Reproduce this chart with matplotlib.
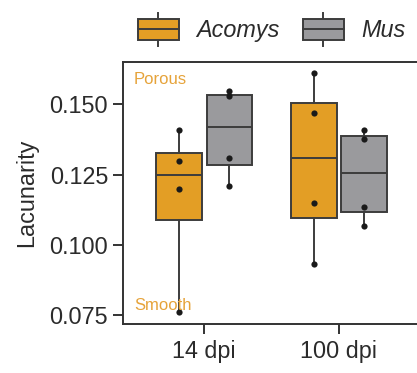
import matplotlib
matplotlib.use("Agg")
import matplotlib.pyplot as plt
from matplotlib.patches import Rectangle
from matplotlib.lines import Line2D
from matplotlib.legend_handler import HandlerBase

# --- Data ---
timepoints = ["14 dpi", "100 dpi"]
species = ["Acomys", "Mus"]
acomys_14 = [0.141, 0.130, 0.120, 0.076]
mus_14 = [0.1548, 0.1530, 0.1309, 0.1208]
acomys_100 = [0.1610, 0.1469, 0.1149, 0.0930]
mus_100 = [0.1410, 0.1378, 0.1135, 0.1068]

COLORS = {"Acomys": "#E39E25", "Mus": "#9A9A9D"}
EDGE = "#3c3c3c"
TEXT = "#2b2b2b"
LW = 1.4

plt.rcParams['font.family'] = ['Liberation Sans', 'DejaVu Sans']


class BoxKeyHandler(HandlerBase):
    # legend key drawn like a small boxplot
    def create_artists(self, legend, orig_handle, xdescent, ydescent,
                       width, height, fontsize, trans):
        fc = orig_handle.get_facecolor()
        x0, y0 = -xdescent, -ydescent
        b0, b1 = y0 + 0.19 * height, y0 + 0.81 * height
        box = Rectangle((x0, b0), width, b1 - b0, facecolor=fc,
                        edgecolor=EDGE, lw=LW, transform=trans)
        mid = Line2D([x0, x0 + width], [y0 + height / 2] * 2, color=EDGE,
                     lw=LW, transform=trans)
        cx = x0 + width / 2
        w_lo = Line2D([cx, cx], [y0, b0], color=EDGE, lw=LW, transform=trans)
        w_hi = Line2D([cx, cx], [b1, y0 + height], color=EDGE, lw=LW, transform=trans)
        return [w_lo, w_hi, box, mid]


fig = plt.figure(figsize=(4.17, 3.73), dpi=100)
ax = fig.add_axes([0.2957, 0.1306, 0.711, 0.704])

groups = {"Acomys": [acomys_14, acomys_100], "Mus": [mus_14, mus_100]}
offsets = {"Acomys": -0.1875, "Mus": 0.1875}

for sp in species:
    pos = [i + offsets[sp] for i in range(len(timepoints))]
    ax.boxplot(groups[sp], positions=pos, widths=0.34, patch_artist=True,
               showfliers=False, whis=1.5, manage_ticks=False,
               medianprops=dict(color=EDGE, lw=LW),
               boxprops=dict(facecolor=COLORS[sp], edgecolor=EDGE, lw=LW),
               whiskerprops=dict(color=EDGE, lw=LW),
               capprops=dict(lw=0), zorder=2)
    for p, vals in zip(pos, groups[sp]):
        ax.scatter([p] * len(vals), vals, s=20, color="#1a1a1a", zorder=3, lw=0)

ax.text(-0.52, 0.1589, "Porous", color="#E6A33A", fontsize=12, ha="left", va="center")
ax.text(-0.52, 0.0784, "Smooth", color="#E6A33A", fontsize=12, ha="left", va="center")

ax.set_xlim(-0.6, 1.6)
ax.set_ylim(0.0717, 0.1652)
ax.set_xticks(range(len(timepoints)))
ax.set_xticklabels(timepoints)
ax.set_yticks([0.075, 0.100, 0.125, 0.150])
ax.set_yticklabels(["0.075", "0.100", "0.125", "0.150"])
ax.tick_params(axis="both", labelsize=16.8, colors="#333333", labelcolor=TEXT,
               width=LW, length=7, pad=4)
ax.set_ylabel("Lacunarity", fontsize=16.8, color=TEXT, labelpad=8)
for s in ax.spines.values():
    s.set_color("#333333")
    s.set_linewidth(1.4)

handles = [Rectangle((0, 0), 1, 1, facecolor=COLORS[sp]) for sp in species]
leg = fig.legend(handles, species, loc="center left", bbox_to_anchor=(138 / 417, 0.921),
                 frameon=False, ncol=2, handler_map={Rectangle: BoxKeyHandler()},
                 handlelength=1.74, handleheight=1.8, handletextpad=0.76,
                 columnspacing=1.0, borderpad=0, borderaxespad=0,
                 prop=dict(size=16.8, style="italic"))
for t in leg.get_texts():
    t.set_color(TEXT)

fig.savefig("out.png", dpi=100)
